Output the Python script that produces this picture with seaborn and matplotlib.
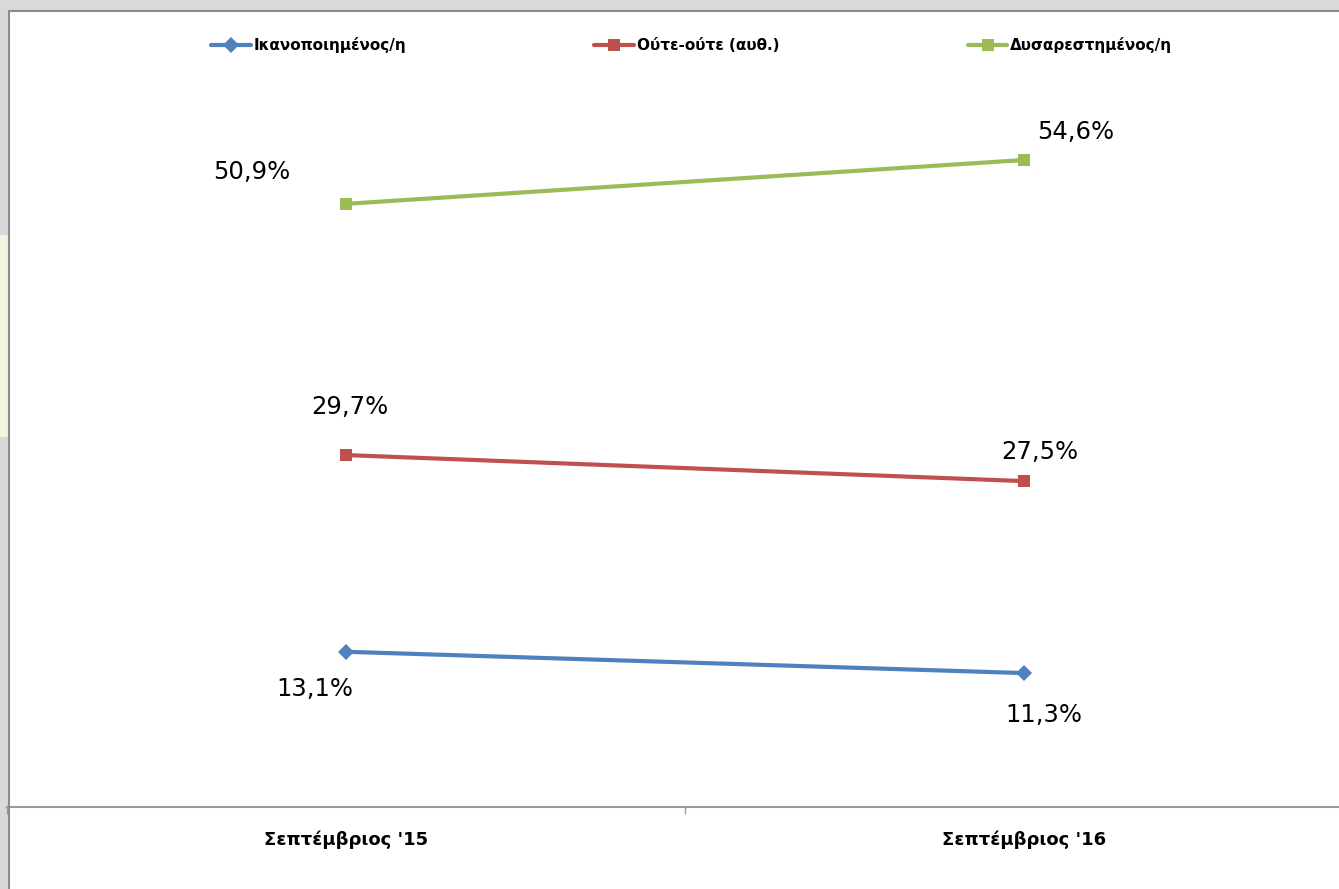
import matplotlib
matplotlib.use("Agg")
import matplotlib.pyplot as plt
from matplotlib.lines import Line2D
from matplotlib.patches import Rectangle
import seaborn as sns
import pandas as pd

periods = ["Σεπτέμβριος '15", "Σεπτέμβριος '16"]
series_names = ["Ικανοποιημένος/η", "Ούτε-ούτε (αυθ.)", "Δυσαρεστημένος/η"]
satisfied = [13.1, 11.3]
neither = [29.7, 27.5]
dissatisfied = [50.9, 54.6]

values = [satisfied, neither, dissatisfied]
colors = {"Ικανοποιημένος/η": "#4F81BD", "Ούτε-ούτε (αυθ.)": "#C0504D", "Δυσαρεστημένος/η": "#9BBB59"}
markers = {"Ικανοποιημένος/η": "D", "Ούτε-ούτε (αυθ.)": "s", "Δυσαρεστημένος/η": "s"}

rows = []
for name, vals in zip(series_names, values):
    for p, v in zip(periods, vals):
        rows.append({"period": p, "value": v, "series": name})
df = pd.DataFrame(rows)

sns.set_theme(style="white")
plt.rcParams["font.family"] = ["DejaVu Sans"]
plt.rcParams["text.color"] = "black"

W, H = 1339, 889
fig = plt.figure(figsize=(W / 100, H / 100), dpi=100)
fig.patch.set_facecolor("#d9d9d9")

# white chart area with dark frame lines
fig.add_artist(Rectangle((10 / W, 0), 1 - 10 / W, (H - 11) / H, transform=fig.transFigure,
                         facecolor="white", edgecolor="none", zorder=0))
fig.add_artist(Rectangle((0, (H - 437) / H), 8 / W, (437 - 235) / H, transform=fig.transFigure,
                         facecolor="#eef5e0", edgecolor="none", zorder=0))
fig.add_artist(Line2D([9 / W, 1], [(H - 10.5) / H] * 2, transform=fig.transFigure,
                      color="#8a8a8a", lw=1.5, zorder=1))
fig.add_artist(Line2D([9 / W] * 2, [0, (H - 10.5) / H], transform=fig.transFigure,
                      color="#8a8a8a", lw=1.5, zorder=1))

ax = fig.add_axes([7 / W, (H - 807) / H, (1363 - 7) / W, (807 - 11) / H])
ax.set_facecolor("none")

sns.lineplot(data=df, x="period", y="value", hue="series", style="series",
             palette=colors, markers=markers, dashes=False, linewidth=3,
             markersize=8, markeredgewidth=0, ax=ax, legend=False, sort=False)

ax.set_xlim(-0.5, 1.5)
ax.set_ylim(0, 796 / 11.85)
ax.set_xlabel("")
ax.set_ylabel("")
ax.set_yticks([])
ax.set_xticks(range(len(periods)))
ax.set_xticklabels(periods, fontsize=13, fontweight="bold", color="black")
ax.set_xticks([-0.5, 0.5, 1.5], minor=True)
ax.tick_params(axis="x", which="major", length=0, pad=17)
ax.tick_params(axis="x", which="minor", length=5, color="#999999", width=1, bottom=True)
for s in ["top", "right", "left"]:
    ax.spines[s].set_visible(False)
ax.spines["bottom"].set_color("#999999")
ax.spines["bottom"].set_linewidth(1.5)

# data labels
offsets = {
    "Ικανοποιημένος/η": [(-31, -37), (20, -42)],
    "Ούτε-ούτε (αυθ.)": [(4, 48), (16, 29)],
    "Δυσαρεστημένος/η": [(-94, 32), (52, 28)],
}
for name, vals in zip(series_names, values):
    for i, v in enumerate(vals):
        dx, dy = offsets[name][i]
        ax.annotate(f"{v:.1f}%".replace(".", ","), (i, v), xytext=(dx, dy),
                    textcoords="offset pixels", ha="center", va="center",
                    fontsize=17.5, color="black")

handles = [Line2D([0], [0], color=colors[n], lw=3, marker=markers[n], markersize=8,
                  markeredgewidth=0) for n in series_names]
leg = fig.legend(handles, series_names, loc="center left",
                 bbox_to_anchor=(211 / W, (H - 45) / H), ncol=3, frameon=False,
                 prop={"weight": "bold", "size": 11}, handlelength=2.6,
                 handletextpad=0.2, columnspacing=12.3, borderaxespad=0,
                 borderpad=0)
for t in leg.get_texts():
    t.set_color("black")

fig.savefig("out.png", dpi=100, facecolor=fig.get_facecolor())
